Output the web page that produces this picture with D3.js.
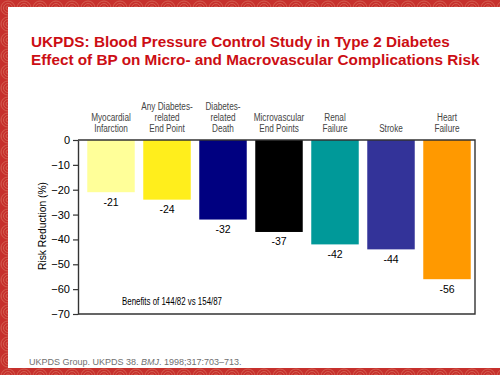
<!DOCTYPE html>
<html>
<head>
<meta charset="utf-8">
<script src="https://cdn.jsdelivr.net/npm/d3@7"></script>
<style>
  body { margin: 0; background: #fff; }
  svg { display: block; }
</style>
</head>
<body>
<div id="chart"></div>
<script>
// data
const categories = [
  ["Myocardial", "Infarction"],
  ["Any Diabetes-", "related", "End Point"],
  ["Diabetes-", "related", "Death"],
  ["Microvascular", "End Points"],
  ["Renal", "Failure"],
  ["Stroke"],
  ["Heart", "Failure"]
];
const riskReduction = [-21, -24, -32, -37, -42, -44, -56];
const barColors = ["#FFFF99", "#FFEE1C", "#000080", "#000000", "#009999", "#333399", "#FF9900"];
const yTicks = [0, -10, -20, -30, -40, -50, -60, -70];
const titleLines = [
  "UKPDS: Blood Pressure Control Study in Type 2 Diabetes",
  "Effect of BP on Micro- and Macrovascular Complications Risk"
];

const W = 500, H = 375;
const plot = { left: 78, right: 475, top: 140, bottom: 314 };

// no Arial Narrow here, so squeeze regular text to the narrow width
function narrow(sel, k) {
  sel.each(function () {
    const len = this.getComputedTextLength();
    d3.select(this).attr("textLength", len * k).attr("lengthAdjust", "spacingAndGlyphs");
  });
}

const svg = d3
  .select("#chart")
  .append("svg")
  .attr("width", W)
  .attr("height", H);

// swirl pattern for the red slide border
const pat = svg
  .append("defs")
  .append("pattern")
  .attr("id", "swirl")
  .attr("width", 16)
  .attr("height", 16)
  .attr("patternUnits", "userSpaceOnUse");
pat.append("rect").attr("width", 16).attr("height", 16).attr("fill", "#C6302C");
[7, 4.5, 2].forEach((r) => {
  pat
    .append("circle")
    .attr("cx", 8)
    .attr("cy", 8)
    .attr("r", r)
    .attr("fill", "none")
    .attr("stroke", "#D45E50")
    .attr("stroke-width", 1);
});

svg.append("rect").attr("x", 0).attr("y", 0).attr("width", W).attr("height", 7).attr("fill", "url(#swirl)");
svg.append("rect").attr("x", 0).attr("y", 0).attr("width", 8).attr("height", H).attr("fill", "url(#swirl)");
svg.append("rect").attr("x", 0).attr("y", 368).attr("width", W).attr("height", 7).attr("fill", "url(#swirl)");

// title
svg
  .selectAll(".title")
  .data(titleLines)
  .enter()
  .append("text")
  .attr("class", "title")
  .attr("x", 31)
  .attr("y", (d, i) => 47 + i * 17.5)
  .attr("font-family", "Liberation Sans, Arial, sans-serif")
  .attr("font-weight", "bold")
  .attr("font-size", 15.3)
  .attr("fill", "#CC0E14")
  .text((d) => d);

// scales
const x = d3
  .scaleBand()
  .domain(d3.range(categories.length))
  .range([83, 475])
  .paddingInner(0.152)
  .paddingOuter(0.076);

const y = d3.scaleLinear().domain([-70, 0]).range([plot.bottom, plot.top]);

// bars
svg
  .selectAll(".bar")
  .data(riskReduction)
  .enter()
  .append("rect")
  .attr("class", "bar")
  .attr("x", (d, i) => x(i))
  .attr("y", y(0))
  .attr("width", x.bandwidth())
  .attr("height", (d) => y(d) - y(0))
  .attr("fill", (d, i) => barColors[i]);

// value labels under bars
svg
  .selectAll(".val")
  .data(riskReduction)
  .enter()
  .append("text")
  .attr("class", "val")
  .attr("x", (d, i) => x(i) + x.bandwidth() / 2)
  .attr("y", (d) => y(d) + 13.5)
  .attr("text-anchor", "middle")
  .attr("font-family", "Liberation Sans, Arial, sans-serif")
  .attr("font-size", 10.5)
  .attr("fill", "#000")
  .text((d) => d);

// category labels above the plot, bottom-aligned
categories.forEach((lines, i) => {
  const lab = svg
    .selectAll(".cat" + i)
    .data(lines)
    .enter()
    .append("text")
    .attr("class", "cat" + i)
    .attr("x", x(i) + x.bandwidth() / 2)
    .attr("y", (ln, j) => 132 - (lines.length - 1 - j) * 11.2)
    .attr("text-anchor", "middle")
    .attr("font-family", "Liberation Sans, Arial, sans-serif")
    .attr("font-size", 10)
    .attr("fill", "#444")
    .text((ln) => ln);
  narrow(lab, 0.82);
});

// frame: top line and right side
svg
  .append("path")
  .attr("d", `M${plot.left},${plot.top}H${plot.right}V${plot.bottom}H${plot.left}`)
  .attr("fill", "none")
  .attr("stroke", "#333")
  .attr("stroke-width", 1.4);

// y axis
const yAxis = svg
  .append("g")
  .attr("transform", "translate(" + plot.left + ",0)")
  .call(d3.axisLeft(y).tickValues(yTicks).tickSize(5).tickPadding(3).tickSizeOuter(0));
yAxis.select(".domain").attr("stroke", "#333").attr("stroke-width", 1.4);
yAxis.selectAll(".tick line").attr("stroke", "#333").attr("stroke-width", 1.2);
yAxis
  .selectAll(".tick text")
  .attr("font-family", "Liberation Sans, Arial, sans-serif")
  .attr("font-size", 11)
  .attr("fill", "#000");

// y axis title
svg
  .append("text")
  .attr("transform", "translate(46,226) rotate(-90)")
  .attr("text-anchor", "middle")
  .attr("font-family", "Liberation Sans, Arial, sans-serif")
  .attr("font-size", 11.5)
  .attr("textLength", 88)
  .attr("lengthAdjust", "spacingAndGlyphs")
  .attr("fill", "#000")
  .text("Risk Reduction (%)");

// note inside the plot
svg
  .append("text")
  .attr("x", 122)
  .attr("y", 305)
  .attr("font-family", "Liberation Sans, Arial, sans-serif")
  .attr("font-size", 11.5)
  .attr("textLength", 100)
  .attr("lengthAdjust", "spacingAndGlyphs")
  .attr("fill", "#000")
  .text("Benefits of 144/82 vs 154/87");

// source line
const src = svg
  .append("text")
  .attr("x", 29)
  .attr("y", 365)
  .attr("font-family", "Liberation Sans, Arial, sans-serif")
  .attr("font-size", 9)
  .attr("fill", "#707070");
src.append("tspan").text("UKPDS Group. UKPDS 38. ");
src.append("tspan").attr("font-style", "italic").text("BMJ");
src.append("tspan").text(". 1998;317:703\u2013713.");
</script>
</body>
</html>
